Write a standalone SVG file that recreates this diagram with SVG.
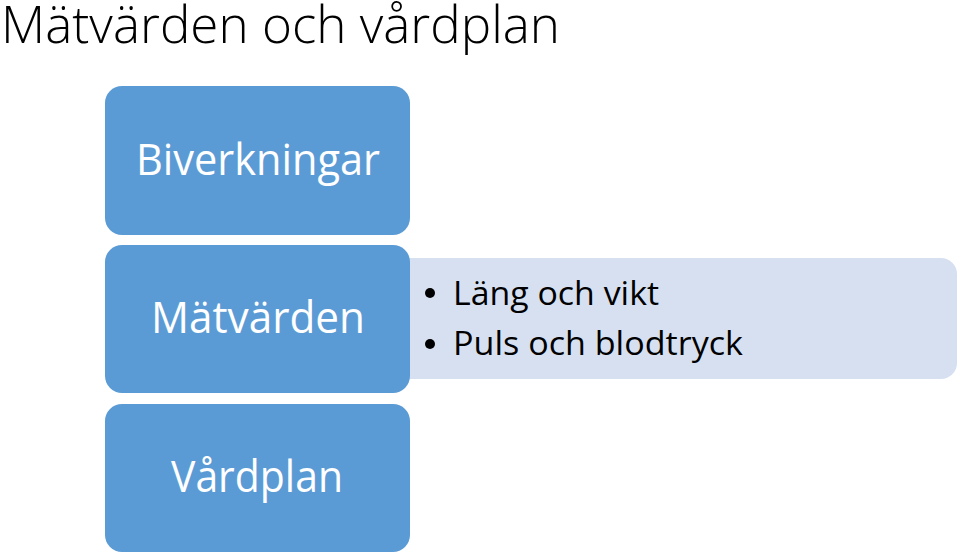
<svg xmlns="http://www.w3.org/2000/svg" width="960" height="556" viewBox="0 0 960 556">
<style>
.title{font-family:"Open Sans","Liberation Sans",sans-serif;font-size:51px;fill:#000;font-weight:300}
.box{fill:#5B9BD5}
.blabel{font-family:"Open Sans","Liberation Sans",sans-serif;font-size:44px;fill:#fff;text-anchor:middle}
.sub{fill:#D6E0F1}
.item{font-family:"Open Sans","Liberation Sans",sans-serif;font-size:32px;fill:#000}
</style>
<rect width="960" height="556" fill="#fff"/>
<text class="title" x="1" y="43" textLength="559" lengthAdjust="spacingAndGlyphs">Mätvärden och vårdplan</text>
<g id="detail">
<rect class="sub" x="380" y="258" width="577" height="121" rx="16"/>
<circle cx="430" cy="293" r="5"/>
<circle cx="430" cy="344" r="5"/>
<text class="item" x="453" y="305" textLength="206" lengthAdjust="spacingAndGlyphs">Läng och vikt</text>
<text class="item" x="453" y="355" textLength="290" lengthAdjust="spacingAndGlyphs">Puls och blodtryck</text>
</g>
<g id="biverkningar">
<rect class="box" x="105" y="86" width="305" height="149" rx="17"/>
<text class="blabel" x="258" y="175" textLength="244" lengthAdjust="spacingAndGlyphs">Biverkningar</text>
</g>
<g id="matvarden">
<rect class="box" x="105" y="245" width="305" height="148" rx="17"/>
<text class="blabel" x="258" y="333" textLength="214" lengthAdjust="spacingAndGlyphs">Mätvärden</text>
</g>
<g id="vardplan">
<rect class="box" x="105" y="404" width="305" height="148" rx="17"/>
<text class="blabel" x="257" y="492" textLength="172" lengthAdjust="spacingAndGlyphs">Vårdplan</text>
</g>
<g id="connectors"></g>
</svg>
